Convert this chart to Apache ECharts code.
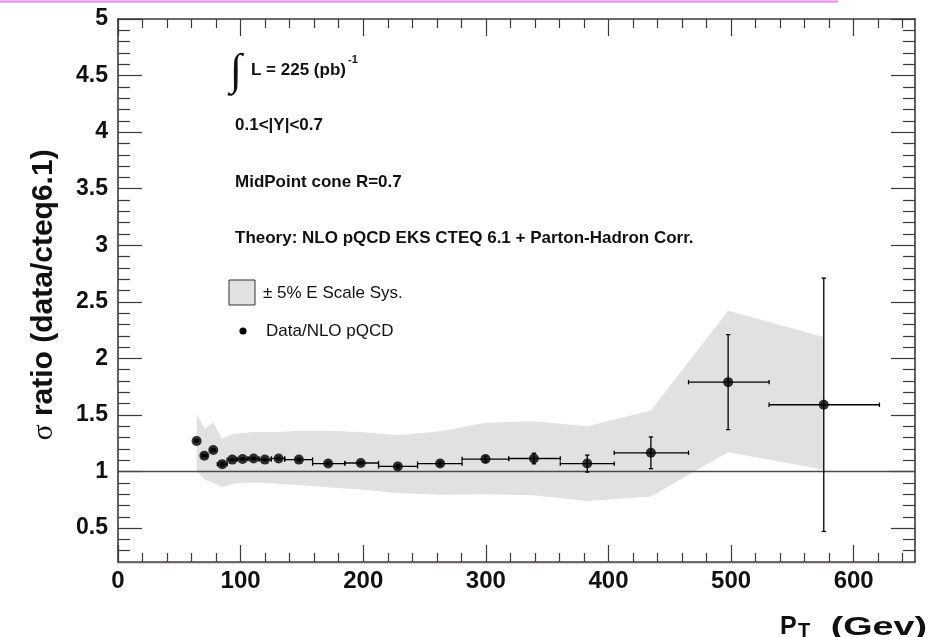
<!DOCTYPE html>
<html>
<head>
<meta charset="utf-8">
<script src="https://cdn.jsdelivr.net/npm/echarts@6/dist/echarts.min.js"></script>
<style>
  html, body { margin: 0; padding: 0; background: #ffffff; }
  #chart { width: 932px; height: 637px; }
</style>
</head>
<body>
<div id="chart"></div>
<script>
// Jet transverse momentum bin centres (GeV) and data / NLO pQCD ratio
const pt     = [64.1, 70.4, 77.7, 85.0, 93.2, 101.6, 110.6, 119.8, 131.0, 147.5, 171.4, 198.0, 228.2, 262.7, 299.7, 339.2, 382.7, 434.6, 497.6, 575.6];
const ratio  = [1.27, 1.14, 1.19, 1.065, 1.105, 1.11, 1.115, 1.105, 1.115, 1.105, 1.07, 1.075, 1.045, 1.07, 1.11, 1.115, 1.07, 1.165, 1.79, 1.59];
// Bin edges (horizontal error bars)
const ptLow  = [62.5, 68.5, 76.0, 81.0, 89.0, 97.0, 106.0, 115.0, 125.0, 136.0, 158.7, 185.0, 212.5, 244.3, 280.6, 318.6, 360.7, 404.7, 465.3, 531.0];
const ptHigh = [65.5, 72.5, 79.5, 89.0, 97.0, 106.0, 115.0, 125.0, 136.0, 158.7, 185.0, 212.5, 244.3, 280.6, 318.6, 360.7, 404.7, 465.3, 531.0, 621.0];
// Statistical uncertainty on the ratio
const statErr = [0.01, 0.01, 0.01, 0.015, 0.01, 0.01, 0.01, 0.01, 0.01, 0.012, 0.012, 0.012, 0.015, 0.018, 0.025, 0.047, 0.075, 0.14, 0.42, 1.12];
// +-5% energy scale systematic band
const sysLow  = [1.01, 0.93, 0.90, 0.86, 0.89, 0.90, 0.90, 0.90, 0.89, 0.88, 0.86, 0.84, 0.81, 0.795, 0.80, 0.79, 0.74, 0.78, 1.17, 1.015];
const sysHigh = [1.51, 1.38, 1.43, 1.29, 1.33, 1.34, 1.35, 1.35, 1.35, 1.36, 1.36, 1.35, 1.32, 1.355, 1.43, 1.445, 1.40, 1.54, 2.42, 2.19];

// Axis ticks
const xMajor = [0, 100, 200, 300, 400, 500, 600];
const yMajor = [0.5, 1, 1.5, 2, 2.5, 3, 3.5, 4, 4.5, 5];
const xMinor = [];
for (let v = 20; v < 650; v += 20) if (v % 100 !== 0) xMinor.push(v);
const yMinor = [];
for (let k = 3; k < 50; k++) if (k % 5 !== 0) yMinor.push(k / 10);

const X_MIN = 0, X_MAX = 650, Y_MIN = 0.2, Y_MAX = 5;
const SANS = '"Liberation Sans", Arial, Helvetica, sans-serif';
const SERIF = '"Liberation Serif", "DejaVu Serif", serif';
const FRAME = '#3a3a3a';

function xAxisDef(position, ticks, len, showLine, showLabels) {
  return {
    type: 'value', position: position, min: X_MIN, max: X_MAX,
    axisLine: { show: showLine, onZero: false, lineStyle: { color: FRAME, width: 1.6 } },
    axisTick: { show: true, inside: true, length: len, customValues: ticks, lineStyle: { color: FRAME, width: 1.2 } },
    axisLabel: showLabels ? {
      show: true, customValues: ticks, margin: 7,
      fontFamily: SANS, fontWeight: 'bold', fontSize: 24, color: '#111'
    } : { show: false },
    splitLine: { show: false }
  };
}
function yAxisDef(position, ticks, len, showLine, showLabels) {
  return {
    type: 'value', position: position, min: Y_MIN, max: Y_MAX,
    axisLine: { show: showLine, onZero: false, lineStyle: { color: FRAME, width: 1.6 } },
    axisTick: { show: true, inside: true, length: len, customValues: ticks, lineStyle: { color: FRAME, width: 1.2 } },
    axisLabel: showLabels ? {
      show: true, customValues: ticks, margin: 10,
      fontFamily: SANS, fontWeight: 'bold', fontSize: 23, color: '#111'
    } : { show: false },
    splitLine: { show: false }
  };
}

const chart = echarts.init(document.getElementById('chart'), null, { renderer: 'canvas' });

const option = {
  animation: false,
  backgroundColor: '#ffffff',
  grid: { left: 118, right: 17, top: 19, bottom: 75, containLabel: false },
  xAxis: [
    xAxisDef('bottom', xMajor, 17, true, true),
    xAxisDef('bottom', xMinor, 9, false, false),
    xAxisDef('top', xMajor, 17, true, false),
    xAxisDef('top', xMinor, 9, false, false)
  ],
  yAxis: [
    yAxisDef('left', yMajor, 24, true, true),
    yAxisDef('left', yMinor, 12, false, false),
    yAxisDef('right', yMajor, 24, true, false),
    yAxisDef('right', yMinor, 12, false, false)
  ],
  series: [
    {
      // systematic band drawn as one polygon through all bins
      name: 'sys', type: 'custom', xAxisIndex: 0, yAxisIndex: 0, silent: true, z: 1,
      data: pt.map((x, i) => [x, sysLow[i], sysHigh[i]]),
      encode: { x: 0, y: [1, 2] },
      renderItem: function (params, api) {
        if (params.dataIndex !== 0) return null;
        const upper = pt.map((x, i) => api.coord([x, sysHigh[i]]));
        const lower = pt.map((x, i) => api.coord([x, sysLow[i]])).reverse();
        return {
          type: 'polygon',
          shape: { points: upper.concat(lower) },
          style: { fill: '#e1e1e1', stroke: null }
        };
      }
    },
    {
      name: 'unity', type: 'line', xAxisIndex: 0, yAxisIndex: 0, silent: true, z: 2,
      data: [[X_MIN, 1], [X_MAX, 1]],
      symbol: 'none',
      lineStyle: { color: '#4a4a4a', width: 1.6 }
    },
    {
      name: 'errors', type: 'custom', xAxisIndex: 0, yAxisIndex: 0, silent: true, z: 3,
      data: pt.map((x, i) => [x, ratio[i], ptLow[i], ptHigh[i], statErr[i]]),
      encode: { x: 0, y: 1 },
      renderItem: function (params, api) {
        const x = api.value(0), y = api.value(1);
        const l = api.coord([api.value(2), y]);
        const r = api.coord([api.value(3), y]);
        const t = api.coord([x, y + api.value(4)]);
        const b = api.coord([x, y - api.value(4)]);
        const cap = 2.2;
        const st = { stroke: '#000', lineWidth: 1.3 };
        return {
          type: 'group',
          children: [
            { type: 'line', shape: { x1: l[0], y1: l[1], x2: r[0], y2: r[1] }, style: st },
            { type: 'line', shape: { x1: l[0], y1: l[1] - cap, x2: l[0], y2: l[1] + cap }, style: st },
            { type: 'line', shape: { x1: r[0], y1: r[1] - cap, x2: r[0], y2: r[1] + cap }, style: st },
            { type: 'line', shape: { x1: t[0], y1: t[1], x2: b[0], y2: b[1] }, style: st },
            { type: 'line', shape: { x1: t[0] - cap, y1: t[1], x2: t[0] + cap, y2: t[1] }, style: st },
            { type: 'line', shape: { x1: b[0] - cap, y1: b[1], x2: b[0] + cap, y2: b[1] }, style: st }
          ]
        };
      }
    },
    {
      name: 'Data/NLO pQCD', type: 'scatter', xAxisIndex: 0, yAxisIndex: 0, z: 4,
      data: pt.map((x, i) => [x, ratio[i]]),
      symbol: 'circle', symbolSize: 10,
      itemStyle: { color: '#000000' }
    }
  ],
  graphic: [
    // magenta rule across the top of the page
    { type: 'line', shape: { x1: 0, y1: 1.5, x2: 838, y2: 1.5 }, style: { stroke: '#ee82ee', lineWidth: 2 }, z: 10 },
    { type: 'line', shape: { x1: 118, y1: 563.5, x2: 915, y2: 563.5 }, style: { stroke: '#f0c8cc', lineWidth: 1 }, z: 10 },

    // axis titles
    {
      type: 'text', x: 44, y: 295, rotation: Math.PI / 2, z: 10,
      style: {
        text: '{s|σ} ratio (data/cteq6.1)',
        font: 'bold 30px ' + SANS, fill: '#111', align: 'center', verticalAlign: 'middle',
        rich: { s: { font: 'normal 30px ' + SERIF, fill: '#111' } }
      }
    },
    { type: 'text', x: 780, y: 615, z: 10, style: { text: 'P', font: 'bold 25px ' + SANS, fill: '#111', align: 'left', verticalAlign: 'alphabetic' } },
    { type: 'text', x: 798, y: 621, z: 10, style: { text: 'T', font: 'bold 20px ' + SANS, fill: '#111', align: 'left', verticalAlign: 'alphabetic' } },
    { type: 'text', x: 927, y: 615, scaleX: 1.45, originX: 0, originY: 0, z: 10, style: { text: '(Gev)', font: 'bold 26px ' + SANS, fill: '#111', align: 'right', verticalAlign: 'alphabetic' } },

    // annotations
    { type: 'text', x: 236, y: 72, z: 10, style: { text: '∫', font: 'normal 44px ' + SERIF, fill: '#111', align: 'center', verticalAlign: 'middle' } },
    { type: 'text', x: 251, y: 70, z: 10, style: { text: 'L = 225 (pb)', font: 'bold 17px ' + SANS, fill: '#111', align: 'left', verticalAlign: 'middle' } },
    { type: 'text', x: 348, y: 60, z: 10, style: { text: '-1', font: 'bold 11px ' + SANS, fill: '#111', align: 'left', verticalAlign: 'middle' } },
    { type: 'text', x: 235, y: 125, z: 10, style: { text: '0.1<|Y|<0.7', font: 'bold 17px ' + SANS, fill: '#111', align: 'left', verticalAlign: 'middle' } },
    { type: 'text', x: 235, y: 182, z: 10, style: { text: 'MidPoint cone R=0.7', font: 'bold 17px ' + SANS, fill: '#111', align: 'left', verticalAlign: 'middle' } },
    { type: 'text', x: 235, y: 238, z: 10, style: { text: 'Theory: NLO pQCD EKS CTEQ 6.1 + Parton-Hadron Corr.', font: 'bold 17px ' + SANS, fill: '#111', align: 'left', verticalAlign: 'middle' } },

    // legend
    { type: 'rect', shape: { x: 229, y: 280, width: 26, height: 25 }, style: { fill: '#e1e1e1', stroke: '#333', lineWidth: 1 }, z: 10 },
    { type: 'text', x: 263, y: 293, z: 10, style: { text: '± 5% E Scale Sys.', font: 'normal 17px ' + SANS, fill: '#111', align: 'left', verticalAlign: 'middle' } },
    { type: 'circle', shape: { cx: 243, cy: 331, r: 3.6 }, style: { fill: '#000' }, z: 10 },
    { type: 'text', x: 266, y: 331, z: 10, style: { text: 'Data/NLO pQCD', font: 'normal 17px ' + SANS, fill: '#111', align: 'left', verticalAlign: 'middle' } }
  ]
};

chart.setOption(option);
</script>
</body>
</html>
